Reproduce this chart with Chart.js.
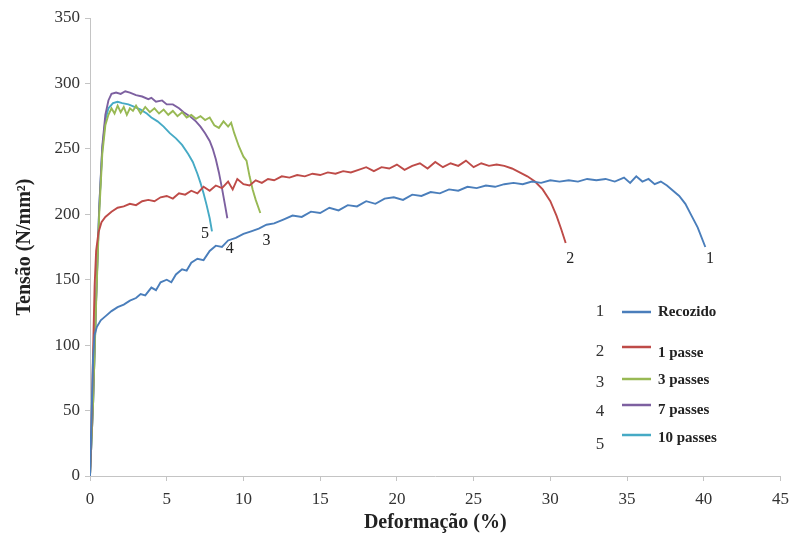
<!DOCTYPE html>
<html>
<head>
<meta charset="utf-8">
<script src="https://cdn.jsdelivr.net/npm/chart.js@4"></script>
<style>
  body { margin: 0; background: #fff; }
</style>
</head>
<body>
<canvas id="myChart" width="797" height="546"></canvas>
<script>

// Recozido
const strain1 = [0, 0.1, 0.2, 0.3, 0.45, 0.7, 1.0, 1.4, 1.8, 2.2, 2.6, 3.0, 3.3, 3.6, 4.0, 4.3, 4.6, 5.0, 5.3, 5.6, 6.0, 6.3, 6.6, 7.0, 7.4, 7.8, 8.2, 8.6, 9.0, 9.5, 10.0, 10.5, 11.0, 11.5, 12.0, 12.6, 13.2, 13.8, 14.4, 15.0, 15.6, 16.2, 16.8, 17.4, 18.0, 18.6, 19.2, 19.8, 20.4, 21.0, 21.6, 22.2, 22.8, 23.4, 24.0, 24.6, 25.2, 25.8, 26.4, 27.0, 27.6, 28.2, 28.8, 29.4, 30.0, 30.6, 31.2, 31.8, 32.4, 33.0, 33.6, 34.2, 34.8, 35.2, 35.6, 36.0, 36.4, 36.8, 37.2, 37.6, 38.0, 38.4, 38.8, 39.2, 39.6, 40.1];
const stress1 = [0, 45, 90, 108, 114, 119, 122, 126, 129, 131, 134, 136, 139, 138, 144, 142, 148, 150, 148, 154, 158, 157, 163, 166, 165, 172, 176, 175, 180, 182, 185, 187, 189, 192, 193, 196, 199, 198, 202, 201, 205, 203, 207, 206, 210, 208, 212, 213, 211, 215, 214, 217, 216, 219, 218, 221, 220, 222, 221, 223, 224, 223, 225, 224, 226, 225, 226, 225, 227, 226, 227, 225, 228, 224, 229, 225, 227, 223, 225, 222, 218, 214, 208, 199, 190, 175];

// 1 passe
const strain2 = [0, 0.1, 0.2, 0.3, 0.4, 0.55, 0.75, 1.0, 1.4, 1.8, 2.2, 2.6, 3.0, 3.4, 3.8, 4.2, 4.6, 5.0, 5.4, 5.8, 6.2, 6.6, 7.0, 7.4, 7.8, 8.2, 8.6, 9.0, 9.3, 9.6, 10.0, 10.4, 10.8, 11.2, 11.6, 12.0, 12.5, 13.0, 13.5, 14.0, 14.5, 15.0, 15.5, 16.0, 16.5, 17.0, 17.5, 18.0, 18.5, 19.0, 19.5, 20.0, 20.5, 21.0, 21.5, 22.0, 22.5, 23.0, 23.5, 24.0, 24.5, 25.0, 25.5, 26.0, 26.5, 27.0, 27.5, 28.0, 28.5, 29.0, 29.5, 30.0, 30.4, 30.7, 31.0];
const stress2 = [0, 40, 95, 145, 172, 186, 194, 198, 202, 205, 206, 208, 207, 210, 211, 210, 213, 214, 212, 216, 215, 218, 216, 221, 218, 222, 220, 225, 219, 227, 223, 222, 226, 224, 227, 226, 229, 228, 230, 229, 231, 230, 232, 231, 233, 232, 234, 236, 233, 236, 235, 238, 234, 237, 239, 235, 240, 236, 239, 237, 241, 236, 239, 237, 238, 237, 235, 232, 229, 225, 219, 210, 199, 189, 178];

// 3 passes
const strain3 = [0, 0.2, 0.4, 0.6, 0.8, 1.0, 1.2, 1.4, 1.6, 1.8, 2.0, 2.2, 2.4, 2.6, 2.8, 3.0, 3.3, 3.6, 3.9, 4.2, 4.5, 4.8, 5.1, 5.4, 5.7, 6.0, 6.3, 6.6, 6.9, 7.2, 7.5, 7.8, 8.1, 8.4, 8.7, 9.0, 9.2, 9.4, 9.7, 10.0, 10.2, 10.4, 10.6, 10.8, 11.1];
const stress3 = [0, 55, 132, 200, 246, 268, 276, 281, 277, 283, 278, 282, 276, 281, 279, 283, 277, 282, 278, 281, 277, 280, 276, 279, 275, 278, 274, 276, 273, 275, 272, 274, 268, 266, 271, 267, 270, 262, 252, 244, 241, 229, 219, 211, 201];

// 7 passes
const strain4 = [0, 0.2, 0.4, 0.6, 0.8, 1.0, 1.2, 1.4, 1.7, 2.0, 2.3, 2.6, 3.0, 3.4, 3.8, 4.0, 4.3, 4.7, 5.0, 5.4, 5.8, 6.1, 6.5, 6.9, 7.2, 7.5, 7.8, 8.0, 8.2, 8.4, 8.6, 8.8, 8.95];
const stress4 = [0, 55, 135, 205, 252, 276, 287, 292, 293, 292, 294, 293, 291, 290, 288, 289, 286, 287, 284, 284, 281, 278, 275, 271, 267, 262, 256, 250, 242, 232, 220, 207, 197];

// 10 passes
const strain5 = [0, 0.2, 0.4, 0.6, 0.8, 1.0, 1.2, 1.5, 1.8, 2.1, 2.5, 2.9, 3.3, 3.7, 4.0, 4.4, 4.8, 5.2, 5.6, 6.0, 6.4, 6.7, 7.0, 7.2, 7.4, 7.6, 7.8, 7.95];
const stress5 = [0, 55, 135, 205, 250, 272, 281, 285, 286, 285, 284, 282, 280, 277, 274, 271, 267, 262, 258, 253, 246, 240, 231, 224, 216, 207, 197, 187];

const seriesNames = ['Recozido', '1 passe', '3 passes', '7 passes', '10 passes'];
const seriesColors = ['#4a7ebb', '#be4b48', '#98b954', '#7d60a0', '#46aac5'];
const xTicks = [0, 45, 5];
const yTicks = [0, 350, 50];

// numbers written at the end of each curve
const endTags = ['1', '2', '3', '4', '5'];
const endTagX = [40.4, 31.3, 11.5, 9.1, 7.5];
const endTagY = [166, 166, 180, 174, 185];

function pairs(xs, ys) {
    return xs.map((x, i) => ({ x: x, y: ys[i] }));
}

const allStrain = [strain1, strain2, strain3, strain4, strain5];
const allStress = [stress1, stress2, stress3, stress4, stress5];

const serif = '"Liberation Serif", "Times New Roman", serif';

const labelsPlugin = {
    id: 'labelsPlugin',
    afterDatasetsDraw(chart) {
        const ctx = chart.ctx;
        const xs = chart.scales.x;
        const ys = chart.scales.y;
        ctx.save();
        ctx.textAlign = 'center';
        ctx.textBaseline = 'middle';
        ctx.fillStyle = '#222';
        ctx.font = '16px ' + serif;
        endTags.forEach((t, i) => {
            ctx.fillText(t, xs.getPixelForValue(endTagX[i]), ys.getPixelForValue(endTagY[i]));
        });

        // legend box, drawn by hand like the original figure
        const numY = [312, 352, 383, 412, 445];
        const lineY = [312, 347, 379, 405, 435];
        const textY = [312, 353, 380, 410, 438];
        ctx.font = '17px ' + serif;
        ctx.fillStyle = '#333';
        numY.forEach((y, i) => ctx.fillText(endTags[i], 600, y));
        ctx.lineWidth = 2.5;
        lineY.forEach((y, i) => {
            ctx.strokeStyle = seriesColors[i];
            ctx.beginPath();
            ctx.moveTo(622, y);
            ctx.lineTo(651, y);
            ctx.stroke();
        });
        ctx.textAlign = 'left';
        ctx.font = 'bold 15px ' + serif;
        ctx.fillStyle = '#222';
        textY.forEach((y, i) => ctx.fillText(seriesNames[i], 658, y));
        ctx.restore();
    }
};

var ctx = document.getElementById('myChart').getContext('2d');

var config = {
    type: 'line',
    data: {
        datasets: seriesNames.map((name, i) => ({
            label: name,
            data: pairs(allStrain[i], allStress[i]),
            borderColor: seriesColors[i],
            backgroundColor: seriesColors[i],
            borderWidth: 1.9,
            pointRadius: 0,
            tension: 0,
            fill: false
        }))
    },
    options: {
        responsive: false,
        animation: false,
        layout: { padding: { top: 18, right: 11, left: 0, bottom: 0 } },
        plugins: {
            legend: { display: false },
            tooltip: { enabled: false }
        },
        scales: {
            x: {
                type: 'linear',
                min: xTicks[0],
                max: xTicks[1],
                afterFit: (s) => { s.height = 70; },
                border: { color: '#c4c4c4', width: 1 },
                grid: { drawOnChartArea: false, color: '#c4c4c4', tickLength: 5 },
                ticks: { stepSize: xTicks[2], padding: 8, color: '#333', font: { family: serif, size: 17 } },
                title: {
                    display: true,
                    text: 'Deformação (%)',
                    color: '#222',
                    font: { family: serif, size: 20, weight: 'bold' },
                    padding: { top: 0, bottom: 11 }
                }
            },
            y: {
                min: yTicks[0],
                max: yTicks[1],
                afterFit: (s) => { s.width = 90; },
                border: { color: '#c4c4c4', width: 1 },
                grid: { drawOnChartArea: false, color: '#c4c4c4', tickLength: 5 },
                ticks: { stepSize: yTicks[2], padding: 5, color: '#333', font: { family: serif, size: 17 } },
                title: {
                    display: true,
                    text: 'Tensão (N/mm²)',
                    color: '#222',
                    font: { family: serif, size: 20, weight: 'bold' },
                    padding: { top: 13, bottom: 0 }
                }
            }
        }
    },
    plugins: [labelsPlugin]
};

var myChart = new Chart(ctx, config);
</script>
</body>
</html>
